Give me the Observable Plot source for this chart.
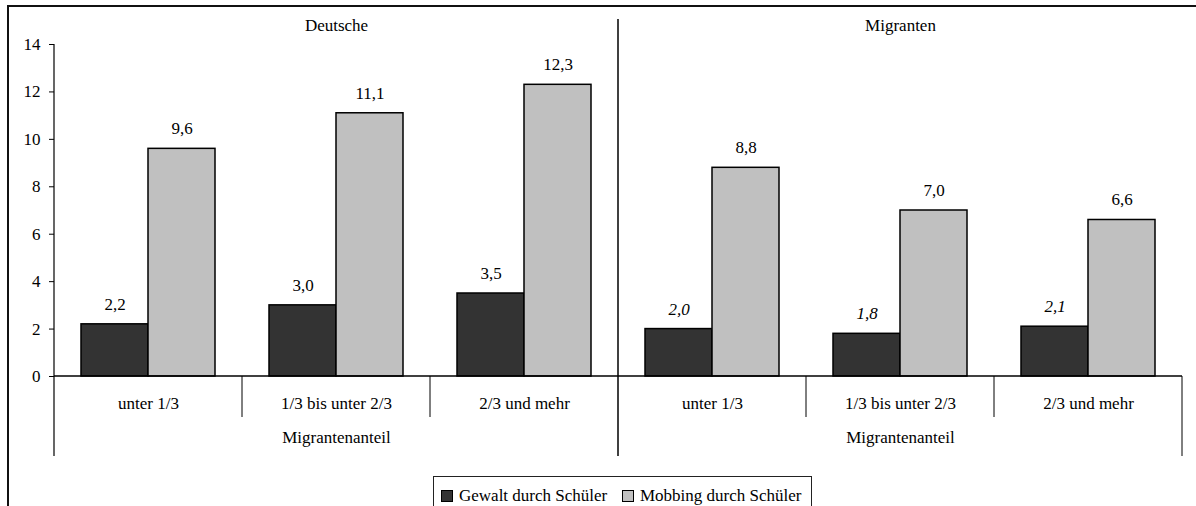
<!DOCTYPE html>
<html>
<head>
<meta charset="utf-8">
<script src="https://cdn.jsdelivr.net/npm/d3@7"></script>
<script src="https://cdn.jsdelivr.net/npm/@observablehq/plot@0.6"></script>
<style>
  html, body { margin: 0; padding: 0; width: 1196px; height: 506px; overflow: hidden; background: #fff; }
  #frame { position: absolute; left: 7px; top: 5px; width: 1300px; height: 600px;
           border-top: 2px solid #111; border-left: 2px solid #111; }
  #chart { position: absolute; left: 0; top: 0; }
  #legend { position: absolute; left: 433px; top: 476px; width: 379px; height: 40px;
            border: 1px solid #222; background: #fff; box-sizing: border-box;
            font-family: "Liberation Serif", "Times New Roman", "DejaVu Serif", serif; font-size: 17px; color: #000; }
  .item { position: absolute; top: 9px; display: flex; align-items: center; white-space: nowrap; }
  .sw { width: 10px; height: 10px; border: 1px solid #000; margin-right: 6px; }
</style>
</head>
<body>
<div id="frame"></div>
<div id="chart"></div>
<div id="legend"></div>
<script>
// ---- data ----
const panels = ["Deutsche", "Migranten"];
const categories = ["unter 1/3", "1/3 bis unter 2/3", "2/3 und mehr"];
const series = ["Gewalt durch Schüler", "Mobbing durch Schüler"];
const deutscheGewalt = [2.2, 3.0, 3.5];
const deutscheMobbing = [9.6, 11.1, 12.3];
const migrantenGewalt = [2.0, 1.8, 2.1];
const migrantenMobbing = [8.8, 7.0, 6.6];
const italicGroups = [["Migranten", "Gewalt durch Schüler"]];
const axisTitle = "Migrantenanteil";
const yTicks = [0, 2, 4, 6, 8, 10, 12, 14];
const colors = ["#333333", "#c0c0c0"];

const values = {
  "Deutsche": [deutscheGewalt, deutscheMobbing],
  "Migranten": [migrantenGewalt, migrantenMobbing]
};
const keys = [];
const rows = [];
panels.forEach(p => categories.forEach((c, ci) => {
  const key = p + "|" + c;
  keys.push(key);
  series.forEach((s, si) => rows.push({
    panel: p, cat: c, key, series: s, value: values[p][si][ci],
    italic: italicGroups.some(([gp, gs]) => gp === p && gs === s)
  }));
}));
const fmt = v => d3.format(".1f")(v).replace(".", ",");
const titleRows = panels.map(p => ({key: p + "|" + categories[1], text: p}));
const subRows = panels.map(p => ({key: p + "|" + categories[1], text: axisTitle}));

const FONT = '"Liberation Serif", "Times New Roman", "DejaVu Serif", serif';

const plot = Plot.plot({
  width: 1196,
  height: 470,
  marginLeft: 53,
  marginRight: 14,
  marginTop: 44,
  marginBottom: 94,
  style: {background: "none", fontFamily: FONT, fontSize: "17px", color: "#000"},
  fx: {domain: keys, padding: 0, axis: null, label: null},
  x: {domain: series, paddingInner: 0, paddingOuter: 0.394, axis: null},
  y: {domain: [0, 14], axis: null},
  color: {domain: series, range: colors},
  marks: [
    Plot.axisY({ticks: yTicks, tickSize: 5, tickPadding: 9, label: null, tickFormat: d => String(d), stroke: "#000", fontFamily: FONT}),
    Plot.axisFx({anchor: "bottom", tickSize: 0, tickPadding: 20, label: null, tickFormat: d => d.split("|")[1], fontFamily: FONT}),
    Plot.barY(rows, {fx: "key", x: "series", y: "value", fill: "series", stroke: "#000", strokeWidth: 1.5}),
    Plot.text(rows.filter(d => !d.italic), {fx: "key", x: "series", y: "value", text: d => fmt(d.value), dy: -20, fontFamily: FONT}),
    Plot.text(rows.filter(d => d.italic), {fx: "key", x: "series", y: "value", text: d => fmt(d.value), dy: -20, fontStyle: "italic", fontFamily: FONT}),
    Plot.text(titleRows, {fx: "key", text: "text", frameAnchor: "top", dy: -26, fontFamily: FONT}),
    Plot.text(subRows, {fx: "key", text: "text", frameAnchor: "bottom", dy: 66, fontFamily: FONT})
  ]
});
document.getElementById("chart").appendChild(plot);

// separator / axis lines positioned from the plot's own scales
const fxs = plot.scale("fx");
const ys = plot.scale("y");
const bw = fxs.bandwidth;
const left = fxs.apply(keys[0]);
const right = fxs.apply(keys[keys.length - 1]) + bw;
const y0 = ys.apply(0);
const yTop = ys.apply(d3.max(yTicks));
const g = d3.select(plot).append("g").attr("stroke", "#000").attr("fill", "none");
const line = (x1, y1, x2, y2, w = 1) => g.append("line")
  .attr("x1", x1).attr("y1", y1).attr("x2", x2).attr("y2", y2).attr("stroke-width", w);
line(left, yTop, left, y0 + 80, 1.2);
line(left, y0, right, y0, 1.5);
keys.forEach((k, i) => {
  if (i === 0) return;
  const x = fxs.apply(k);
  if (i % categories.length === 0) line(x, yTop - 25, x, y0 + 80, 1.5);
  else line(x, y0, x, y0 + 41, 1);
});
line(right, y0, right, y0 + 80, 1);

// legend
const lg = d3.select("#legend");
const offsets = [7, 188];
series.forEach((s, i) => {
  const it = lg.append("div").attr("class", "item").style("left", offsets[i] + "px");
  it.append("div").attr("class", "sw").style("background", colors[i]);
  it.append("span").text(s);
});
</script>
</body>
</html>
